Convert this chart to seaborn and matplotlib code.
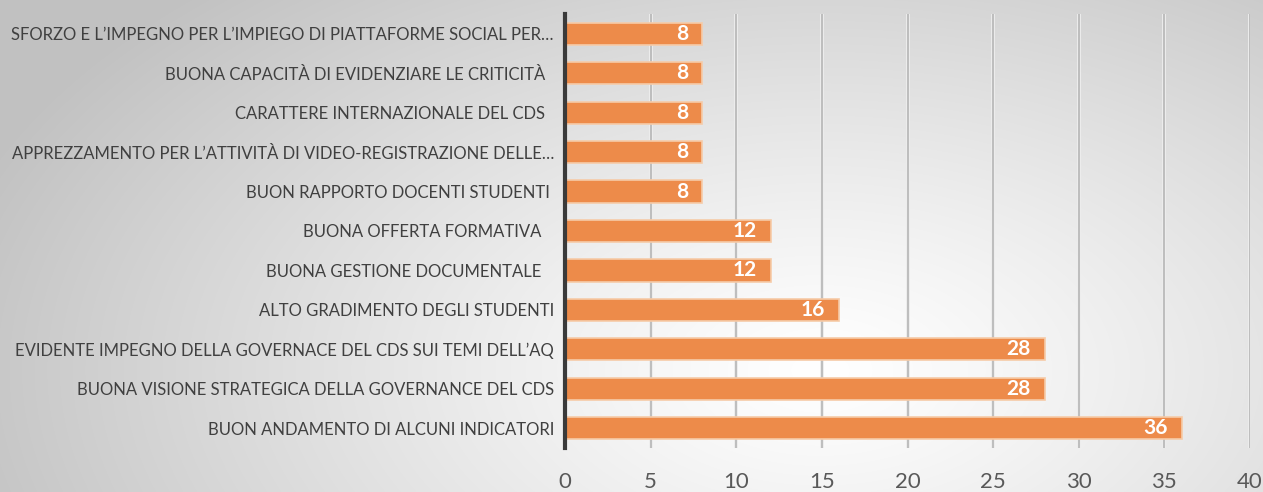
import numpy as np
import pandas as pd
import matplotlib
matplotlib.use("Agg")
import matplotlib.pyplot as plt
import matplotlib.patheffects as pe
import seaborn as sns

categories = [
    "SFORZO E L’IMPEGNO PER L’IMPIEGO DI PIATTAFORME SOCIAL PER…",
    "BUONA CAPACITÀ DI EVIDENZIARE LE CRITICITÀ  ",
    "CARATTERE INTERNAZIONALE DEL CDS  ",
    "APPREZZAMENTO PER L’ATTIVITÀ DI VIDEO-REGISTRAZIONE DELLE…",
    "BUON RAPPORTO DOCENTI STUDENTI ",
    "BUONA OFFERTA FORMATIVA   ",
    "BUONA GESTIONE DOCUMENTALE   ",
    "ALTO GRADIMENTO DEGLI STUDENTI",
    "EVIDENTE IMPEGNO DELLA GOVERNACE DEL CDS SUI TEMI DELL’AQ",
    "BUONA VISIONE STRATEGICA DELLA GOVERNANCE DEL CDS",
    "BUON ANDAMENTO DI ALCUNI INDICATORI",
]
values = [8, 8, 8, 8, 8, 12, 12, 16, 28, 28, 36]
x_ticks = [0, 5, 10, 15, 20, 25, 30, 35, 40]

df = pd.DataFrame({"cat": categories, "val": values})

sns.set_theme(style="white")
plt.rcParams["font.family"] = ["Lato", "DejaVu Sans"]

W, H = 1263, 492
fig = plt.figure(figsize=(W / 100, H / 100), dpi=100)

# background radial gradient
bg = fig.add_axes([0, 0, 1, 1], zorder=-10)
yy, xx = np.mgrid[0:H, 0:W]
cx, cy = 820, 370
d = np.sqrt(((xx - cx) / 900.0) ** 2 + ((yy - cy) / 520.0) ** 2)
d = np.clip(d, 0, 1)
val = 1.0 - 0.24 * d ** 1.2
img = np.dstack([val, val, val])
bg.imshow(img, aspect="auto", extent=[0, 1, 0, 1], interpolation="bilinear")
bg.axis("off")

ax = fig.add_axes([565 / W, 1 - 448 / H, (1250 - 565) / W, (448 - 14) / H])
ax.set_facecolor("none")

sns.barplot(data=df, x="val", y="cat", orient="h", color="#ED8B4A",
            width=0.56, ax=ax, saturation=1, edgecolor="#F6CBA8", linewidth=1.2,
            zorder=3)

ax.set_xlim(0, 40)
ax.set_ylim(len(categories) - 0.5, -0.5)
ax.set_xticks(x_ticks)
ax.set_xlabel("")
ax.set_ylabel("")

for xt in x_ticks[1:]:
    ax.axvline(xt, color="#bdbdbd", lw=1.4, zorder=1,
               path_effects=[pe.Stroke(linewidth=2.8, foreground="#ededed"), pe.Normal()])

for sp in ["top", "right", "bottom"]:
    ax.spines[sp].set_visible(False)
ax.spines["left"].set_color("#3a3a3a")
ax.spines["left"].set_linewidth(3)
ax.spines["left"].set_zorder(5)

ax.tick_params(axis="x", length=0, pad=17, labelsize=16, labelcolor="#595959")
ax.tick_params(axis="y", length=0, pad=8, labelsize=12, labelcolor="#404040")

for i, v in enumerate(values):
    ax.text(v - 0.8, i, str(v), ha="right", va="center", color="white",
            fontsize=15, fontweight="bold", zorder=6)

fig.savefig("out.png", dpi=100)
